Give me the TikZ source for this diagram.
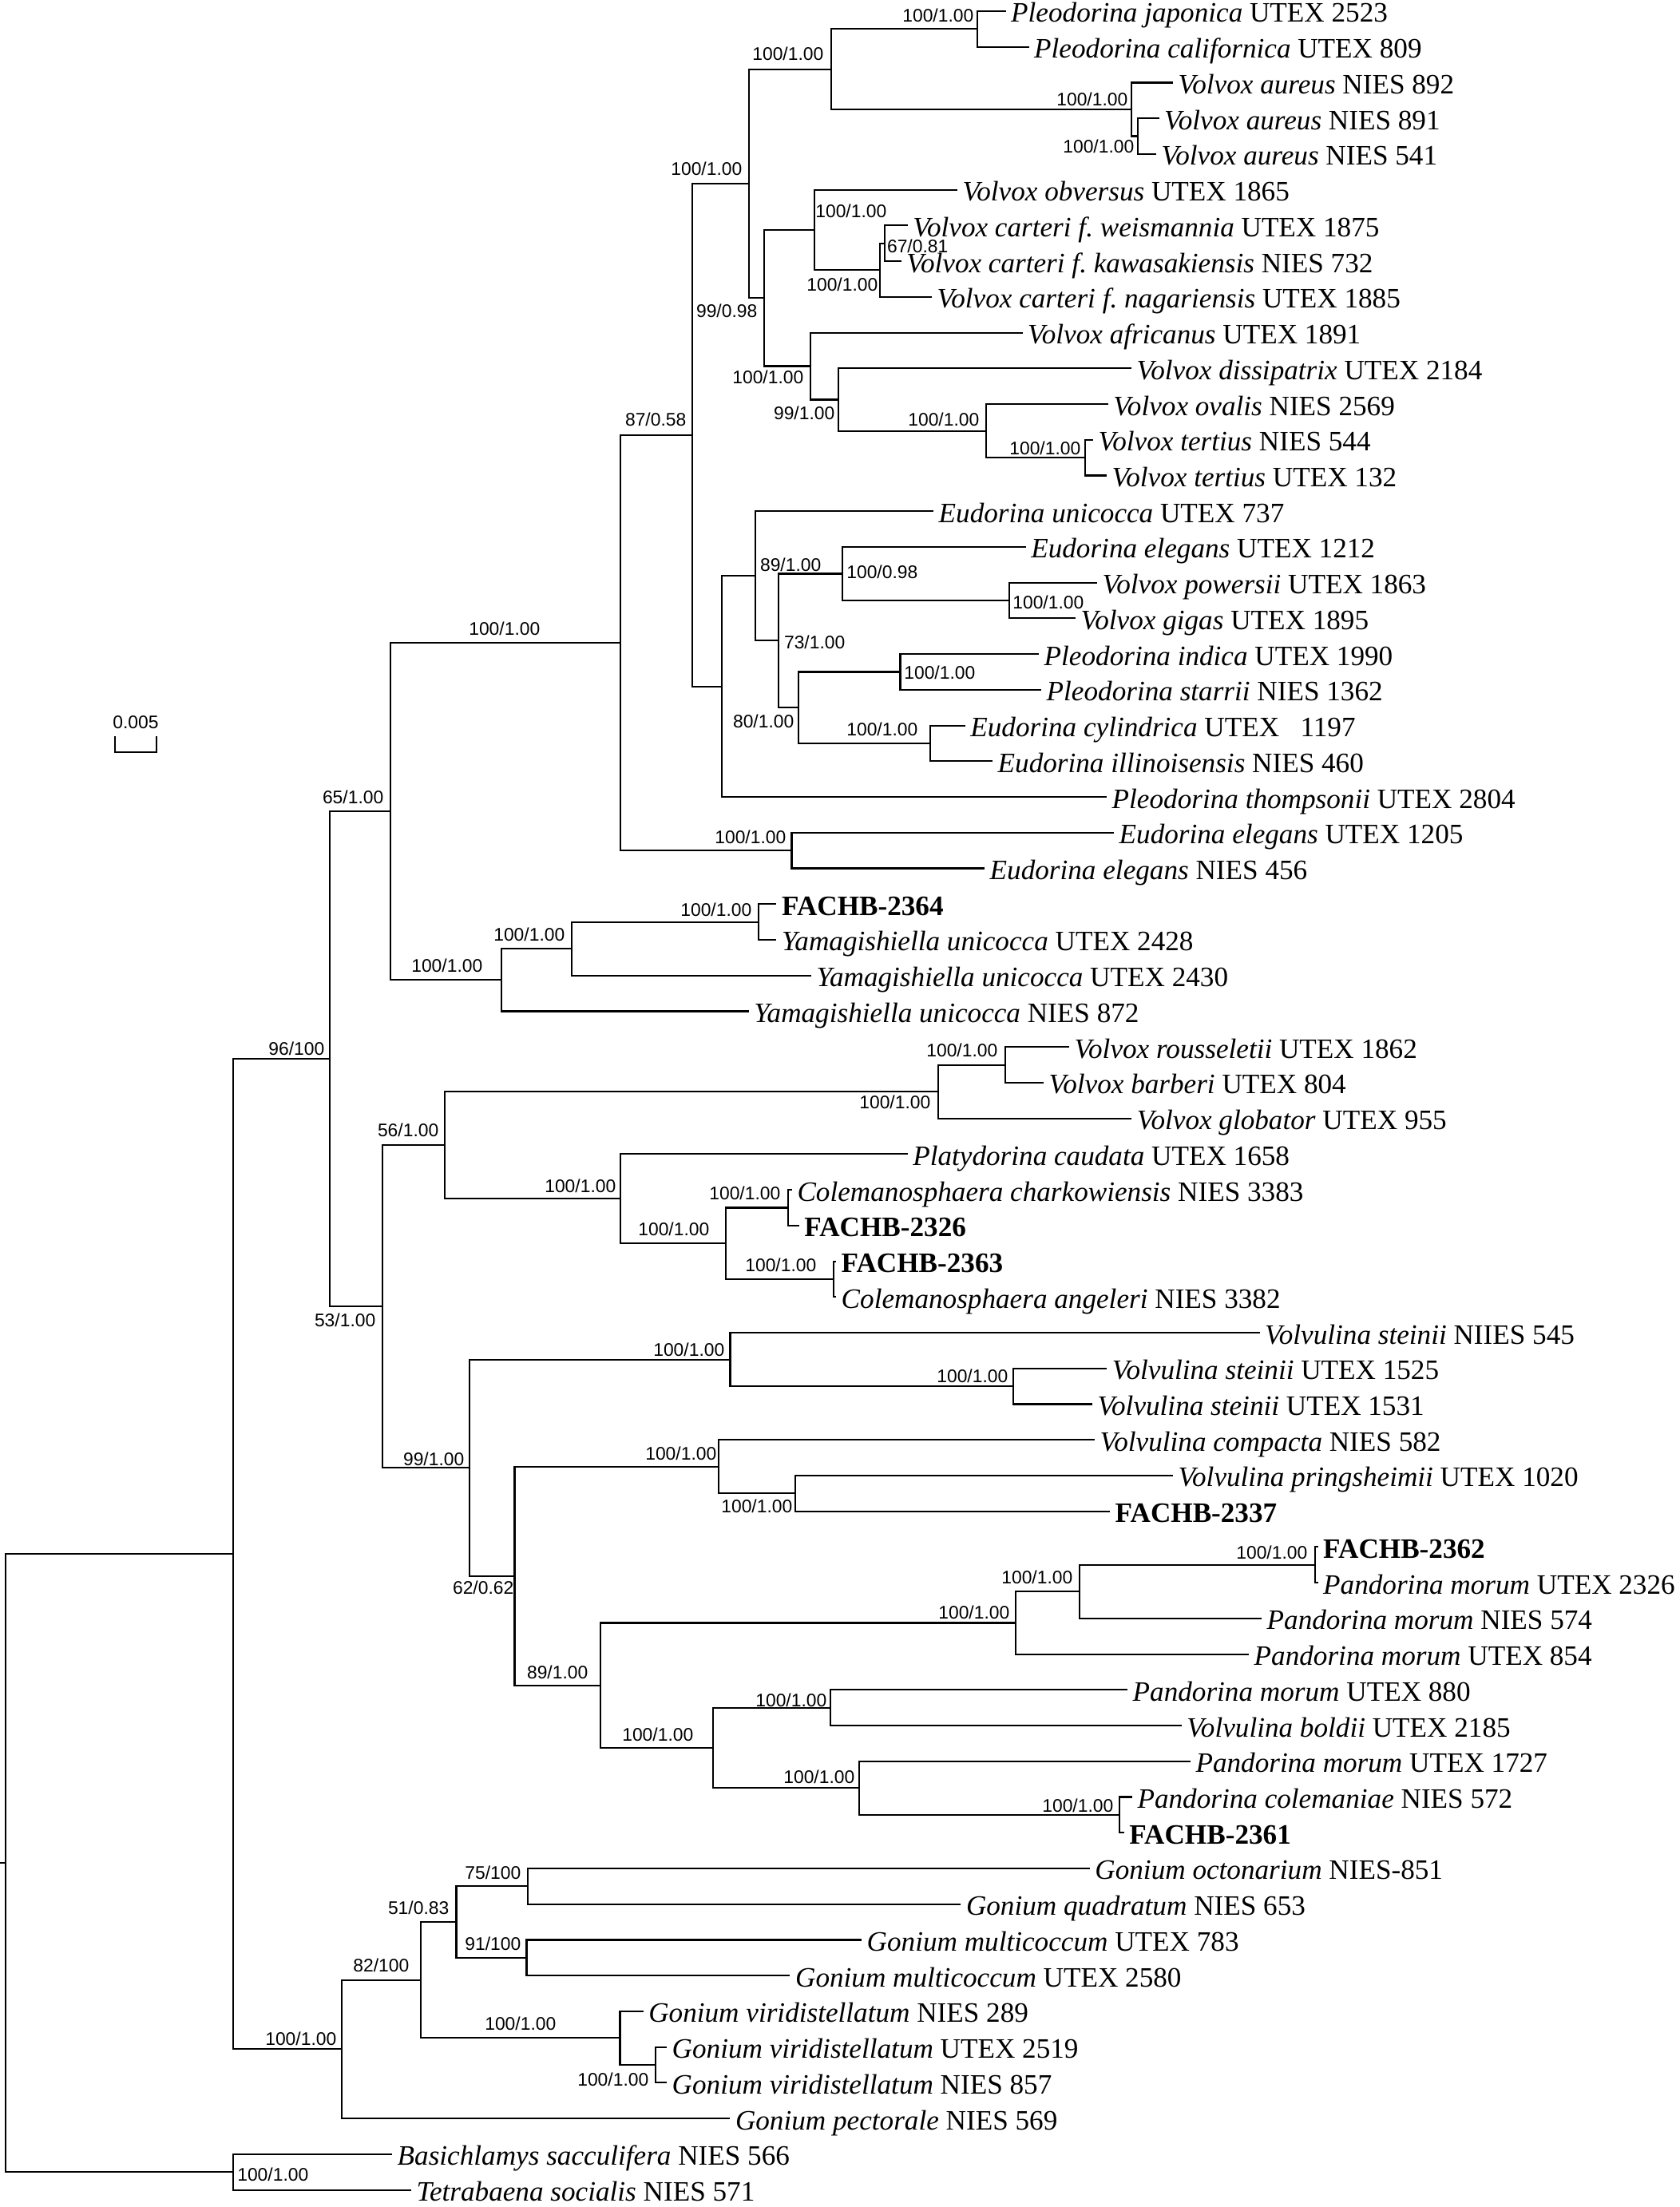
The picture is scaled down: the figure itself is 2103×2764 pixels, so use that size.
\documentclass[tikz,border=0pt]{standalone}
\usepackage{fontspec}
\setmainfont{Liberation Serif}
\setsansfont{Liberation Sans}
\usetikzlibrary{calc}

\newcommand\taxon[1]{\textit{#1}}

\tikzset{
    branch/.style={line width=0.6pt, line cap=rect},
    leaf/.style={anchor=base west, inner sep=0pt, font=\fontsize{10}{12}\selectfont},
    bs/.style={anchor=base east, inner sep=0pt, font=\sffamily\fontsize{6.5}{8}\selectfont},
}

\begin{document}
\begin{tikzpicture}[x=0.01cm, y=-0.01cm]
    \path[fill=white, use as bounding box] (0,0) rectangle (2103,2764);

    % tips and names
    \foreach \i/\tx/\lbl in {
        1/1258.5/{\taxon{Pleodorina japonica} UTEX 2523},
        2/1287.5/{\taxon{Pleodorina californica} UTEX 809},
        3/1468/{\taxon{Volvox aureus} NIES 892},
        4/1450.5/{\taxon{Volvox aureus} NIES 891},
        5/1447/{\taxon{Volvox aureus} NIES 541},
        6/1198/{\taxon{Volvox obversus} UTEX 1865},
        7/1135.7/{\taxon{Volvox carteri f.\ weismannia} UTEX 1875},
        8/1127.7/{\taxon{Volvox carteri f.\ kawasakiensis} NIES 732},
        9/1166/{\taxon{Volvox carteri f.\ nagariensis} UTEX 1885},
        10/1279.5/{\taxon{Volvox africanus} UTEX 1891},
        11/1416/{\taxon{Volvox dissipatrix} UTEX 2184},
        12/1386.6/{\taxon{Volvox ovalis} NIES 2569},
        13/1368/{\taxon{Volvox tertius} NIES 544},
        14/1385/{\taxon{Volvox tertius} UTEX 132},
        15/1168/{\taxon{Eudorina unicocca} UTEX 737},
        16/1283.6/{\taxon{Eudorina elegans} UTEX 1212},
        17/1373/{\taxon{Volvox powersii} UTEX 1863},
        18/1346/{\taxon{Volvox gigas} UTEX 1895},
        19/1300/{\taxon{Pleodorina indica} UTEX 1990},
        20/1303/{\taxon{Pleodorina starrii} NIES 1362},
        21/1207.7/{\taxon{Eudorina cylindrica} UTEX~~~1197},
        22/1242/{\taxon{Eudorina illinoisensis} NIES 460},
        23/1385/{\taxon{Pleodorina thompsonii} UTEX 2804},
        24/1394/{\taxon{Eudorina elegans} UTEX 1205},
        25/1232/{\taxon{Eudorina elegans} NIES 456},
        26/971.4/{\textbf{FACHB-2364}},
        27/971.4/{\taxon{Yamagishiella unicocca} UTEX 2428},
        28/1015/{\taxon{Yamagishiella unicocca} UTEX 2430},
        29/936.6/{\taxon{Yamagishiella unicocca} NIES 872},
        30/1337.8/{\taxon{Volvox rousseletii} UTEX 1862},
        31/1306/{\taxon{Volvox barberi} UTEX 804},
        32/1416.2/{\taxon{Volvox globator} UTEX 955},
        33/1135.6/{\taxon{Platydorina caudata} UTEX 1658},
        34/990.8/{\taxon{Colemanosphaera charkowiensis} NIES 3383},
        35/999.7/{\textbf{FACHB-2326}},
        36/1046/{\textbf{FACHB-2363}},
        37/1046/{\taxon{Colemanosphaera angeleri} NIES 3382},
        38/1576.5/{\taxon{Volvulina steinii} NIIES 545},
        39/1385.2/{\taxon{Volvulina steinii} UTEX 1525},
        40/1366.8/{\taxon{Volvulina steinii} UTEX 1531},
        41/1370/{\taxon{Volvulina compacta} NIES 582},
        42/1467.8/{\taxon{Volvulina pringsheimii} UTEX 1020},
        43/1389/{\textbf{FACHB-2337}},
        44/1649.5/{\textbf{FACHB-2362}},
        45/1649.5/{\taxon{Pandorina morum} UTEX 2326},
        46/1579/{\taxon{Pandorina morum} NIES 574},
        47/1563/{\taxon{Pandorina morum} UTEX 854},
        48/1411/{\taxon{Pandorina morum} UTEX 880},
        49/1478.6/{\taxon{Volvulina boldii} UTEX 2185},
        50/1489.8/{\taxon{Pandorina morum} UTEX 1727},
        51/1416.8/{\taxon{Pandorina colemaniae} NIES 572},
        52/1406.6/{\textbf{FACHB-2361}},
        53/1363.7/{\taxon{Gonium octonarium} NIES-851},
        54/1202.3/{\taxon{Gonium quadratum} NIES 653},
        55/1078/{\taxon{Gonium multicoccum} UTEX 783},
        56/988.4/{\taxon{Gonium multicoccum} UTEX 2580},
        57/804.6/{\taxon{Gonium viridistellatum} NIES 289},
        58/834/{\taxon{Gonium viridistellatum} UTEX 2519},
        59/834/{\taxon{Gonium viridistellatum} NIES 857},
        60/913.3/{\taxon{Gonium pectorale} NIES 569},
        61/490/{\taxon{Basichlamys sacculifera} NIES 566},
        62/514/{\taxon{Tetrabaena socialis} NIES 571}} {
        \coordinate (l\i) at (\tx, {14+(\i-1)*44.73});
        \node[leaf] (t\i) at ($(l\i)+(7,14)$) {\lbl};
    }

    % inner nodes
    \foreach \n/\x/\y in {pleoJC/1224/36.35, aur2/1425/170.55, aur/1417/137.0,
        pleoAur/1040.6/86.7, cart2/1108/304.75, cart/1102/338.3, obv/1020/288.0,
        tert/1359/573.15, oval/1235/539.6, diss/1050/500.45, afr/1015/458.5,
        volvA/957/373.25, volvB/938/230.0, powG/1264.4/752.05, eleg/1054.6/718.5,
        indS/1127.5/841.5, cylI/1164.8/930.95, pleoE/1000/886.2, eudA/975/802.35,
        eudB/946/721.3, eudC/904/859.7, volvox/867/544.85, eleg2/991.5/1065.15,
        volvC/777/805.0, yam1/950/1154.65, yam2/716/1188.2, yam3/627.7/1227.3,
        c65/489/1016.15, rous/1258.7/1333.55, glob/1175/1367.1, cole1/987/1512.45,
        cole2/1044.4/1601.95, cole/909/1557.2, plat/777/1501.3, c56/557/1434.2,
        stn2/1269/1736.1, stn/914.5/1702.55, prin/995.6/1870.3, comp/900/1836.75,
        pan1/1647/1959.75, pan2/1351.6/1993.3, pan3/1272.4/2032.45, bold/1040/2138.65,
        colm/1402.2/2272.85, pan1727/1075.8/2239.3, pan4/893.2/2189.0, c89/751.7/2110.7,
        c62/644.5/1973.7, c99/588/1838.1, c53/479/1636.15, c96/413.3/1326.15,
        oct/661/2362.35, mult/659.5/2451.8, c51/571.5/2407.1, vir2/821.4/2585.95,
        vir/776.5/2552.4, c82/526.6/2479.75, gon/428/2566.4, ingr/291.7/1946.3,
        outg/291.6/2720.15, root/6.9/2333.2}
        \coordinate (\n) at (\x,\y);
    \coordinate (stub) at (1,2333.2);

    \foreach \p/\c in {pleoJC/l1, pleoJC/l2, aur2/l4, aur2/l5, aur/l3, aur/aur2,
        pleoAur/pleoJC, pleoAur/aur, cart2/l7, cart2/l8, cart/cart2, cart/l9,
        obv/l6, obv/cart, tert/l13, tert/l14, oval/l12, oval/tert, diss/l11, diss/oval,
        afr/l10, afr/diss, volvA/obv, volvA/afr, volvB/pleoAur, volvB/volvA,
        powG/l17, powG/l18, eleg/l16, eleg/powG, indS/l19, indS/l20, cylI/l21, cylI/l22,
        pleoE/indS, pleoE/cylI, eudA/eleg, eudA/pleoE, eudB/l15, eudB/eudA,
        eudC/eudB, eudC/l23, volvox/volvB, volvox/eudC, eleg2/l24, eleg2/l25,
        volvC/volvox, volvC/eleg2, yam1/l26, yam1/l27, yam2/yam1, yam2/l28,
        yam3/yam2, yam3/l29, c65/volvC, c65/yam3, rous/l30, rous/l31, glob/rous, glob/l32,
        cole1/l34, cole1/l35, cole2/l36, cole2/l37, cole/cole1, cole/cole2,
        plat/l33, plat/cole, c56/glob, c56/plat, stn2/l39, stn2/l40, stn/l38, stn/stn2,
        prin/l42, prin/l43, comp/l41, comp/prin, pan1/l44, pan1/l45, pan2/pan1, pan2/l46,
        pan3/pan2, pan3/l47, bold/l48, bold/l49, colm/l51, colm/l52, pan1727/l50, pan1727/colm,
        pan4/bold, pan4/pan1727, c89/pan3, c89/pan4, c62/comp, c62/c89, c99/stn, c99/c62,
        c53/c56, c53/c99, c96/c65, c96/c53, oct/l53, oct/l54, mult/l55, mult/l56,
        c51/oct, c51/mult, vir2/l58, vir2/l59, vir/l57, vir/vir2, c82/c51, c82/vir,
        gon/c82, gon/l60, ingr/c96, ingr/gon, outg/l61, outg/l62, root/ingr, root/outg}
        \draw[branch] (\p) |- (\c);
    \draw[branch] (stub) -- (root);

    % support values
    \foreach \x/\y/\v [count=\k] in {1220/28/{100/1.00}, 1032/76/{100/1.00},
        1413/133/{100/1.00}, 1421/192/{100/1.00}, 930/220/{100/1.00}, 1111/273/{100/1.00},
        1188/317/{67/0.81}, 1100/365/{100/1.00}, 949/397/{99/0.98}, 1007/480/{100/1.00},
        1046/525/{99/1.00}, 1227/533/{100/1.00}, 1354/569/{100/1.00}, 860/533/{87/0.58},
        1029/715/{89/1.00}, 1150/724/{100/0.98}, 1358/762/{100/1.00}, 1059/812/{73/1.00},
        1222/850/{100/1.00}, 995/911/{80/1.00}, 1150/921/{100/1.00}, 677/795/{100/1.00},
        985/1056/{100/1.00}, 481/1006/{65/1.00}, 942/1147/{100/1.00}, 708/1178/{100/1.00},
        605/1217/{100/1.00}, 407/1321/{96/100}, 1250/1323/{100/1.00}, 1166/1388/{100/1.00},
        550/1423/{56/1.00}, 772/1493/{100/1.00}, 978/1502/{100/1.00}, 889/1547/{100/1.00},
        1023/1592/{100/1.00}, 471/1661/{53/1.00}, 908/1698/{100/1.00}, 1263/1731/{100/1.00},
        898/1828/{100/1.00}, 582/1835/{99/1.00}, 993/1894/{100/1.00}, 1638/1952/{100/1.00},
        1344/1983/{100/1.00}, 644/1996/{62/0.62}, 1265/2027/{100/1.00}, 737/2102/{89/1.00},
        1036/2137/{100/1.00}, 869/2180/{100/1.00}, 1071/2233/{100/1.00}, 1395/2269/{100/1.00},
        653/2353/{75/100}, 563/2397/{51/0.83}, 653/2442/{91/100}, 513/2469/{82/100},
        697/2542/{100/1.00}, 422/2561/{100/1.00}, 813/2612/{100/1.00}, 387/2731/{100/1.00}}
        \node[bs] (bs\k) at (\x,\y) {\v};

    % scale bar
    \coordinate (sbL) at (144,923);
    \coordinate (sbR) at (195.7,923);
    \draw[branch] (sbL) -- ++(0,19) -| (sbR);
    \node[bs, anchor=base] (sbText) at (170,912) {0.005};
\end{tikzpicture}
\end{document}
